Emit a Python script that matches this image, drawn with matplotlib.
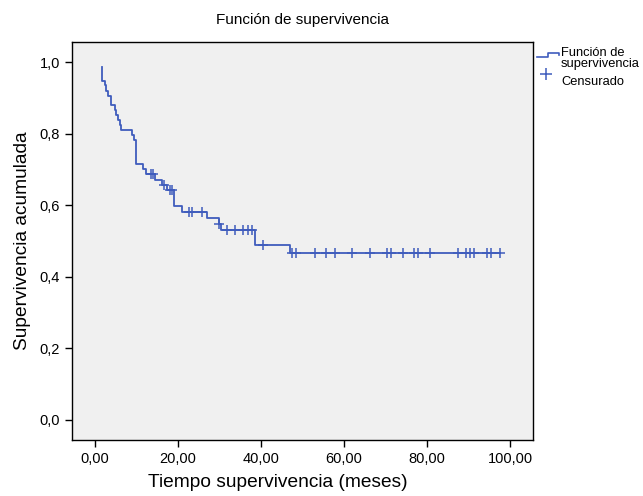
import matplotlib
matplotlib.use("Agg")
import matplotlib.pyplot as plt
from matplotlib.lines import Line2D
import numpy as np

plt.rcParams['font.family'] = ['Liberation Sans', 'DejaVu Sans']

# Kaplan-Meier curve
start_t, start_s = 1.6, 0.987
end_t = 97.6
event_times = [1.6, 2.4, 2.8, 3.2, 3.9, 4.8, 5.2, 5.6, 6.0, 6.4, 9.0, 9.5, 9.8, 10.0,
               11.6, 12.2, 14.5, 16.2, 17.3, 19.0, 21.0, 27.1, 29.8, 30.3, 38.6, 47.0]
survival = [0.948, 0.936, 0.920, 0.905, 0.880, 0.866, 0.852, 0.838, 0.824, 0.810,
            0.796, 0.782, 0.754, 0.715, 0.701, 0.687, 0.672, 0.658, 0.642, 0.598,
            0.582, 0.565, 0.549, 0.531, 0.489, 0.467]
censored_times = [13.4, 13.9, 16.6, 18.0, 18.5, 22.6, 23.5, 25.9, 30.0,
                  31.9, 33.7, 35.6, 36.9, 37.8, 40.4,
                  47.4, 48.4, 53.0, 55.7, 57.8, 61.9, 66.3, 70.3, 71.2, 74.1,
                  76.9, 77.9, 80.7, 87.5, 89.3, 90.4, 91.2, 94.5, 95.3, 97.6]

x_ticks = [0, 20, 40, 60, 80, 100]
x_labels = ['0,00', '20,00', '40,00', '60,00', '80,00', '100,00']
y_ticks = [0.0, 0.2, 0.4, 0.6, 0.8, 1.0]
y_labels = ['0,0', '0,2', '0,4', '0,6', '0,8', '1,0']

blue = '#3f5cbd'

fig = plt.figure(figsize=(6.43, 4.96), dpi=100)
ax = fig.add_axes([0.112, 0.113, 0.717, 0.802])
ax.set_facecolor('#f0f0f0')

xs = [start_t] + event_times + [end_t]
ys = [start_s] + survival + [survival[-1]]
ax.step(xs, ys, where='post', color=blue, lw=1.3)

# censor marks sit on the curve
idx = np.searchsorted(event_times, censored_times, side='right') - 1
cy = np.array(survival)[idx]
ax.plot(censored_times, cy, ls='none', marker='+', ms=7, mew=1.1, color=blue)

ax.set_xlim(-5.5, 105.5)
ax.set_ylim(-0.056, 1.056)
ax.set_xticks(x_ticks)
ax.set_xticklabels(x_labels, fontsize=10.5)
ax.set_yticks(y_ticks)
ax.set_yticklabels(y_labels, fontsize=10.5)
ax.tick_params(direction='out', length=5, width=1, top=False, right=False)
for s in ax.spines.values():
    s.set_linewidth(1.0)

ax.set_xlabel('Tiempo supervivencia (meses)', fontsize=13.8, labelpad=6, x=0.447)
ax.set_ylabel('Supervivencia acumulada', fontsize=13.8, labelpad=6)
ax.set_title('Función de supervivencia', fontsize=11, pad=13)

# legend drawn by hand (SPSS style)
W, H = 643.0, 496.0
def fx(px): return px / W
def fy(py): return 1 - py / H
fig.add_artist(Line2D([fx(537), fx(548), fx(548), fx(559), fx(559)],
                      [fy(57), fy(57), fy(52.5), fy(52.5), fy(55)],
                      color=blue, lw=1.2, transform=fig.transFigure))
fig.text(fx(561), fy(53), 'Función de', fontsize=9.3, va='center', ha='left')
fig.text(fx(561), fy(64), 'supervivencia', fontsize=9.3, va='center', ha='left')
fig.add_artist(Line2D([fx(546)], [fy(74)], ls='none', marker='+', ms=9, mew=1.1,
                      color=blue, transform=fig.transFigure))
fig.text(fx(561), fy(82), 'Censurado', fontsize=9.3, va='center', ha='left')

fig.savefig('out.png', dpi=100, facecolor='white')
